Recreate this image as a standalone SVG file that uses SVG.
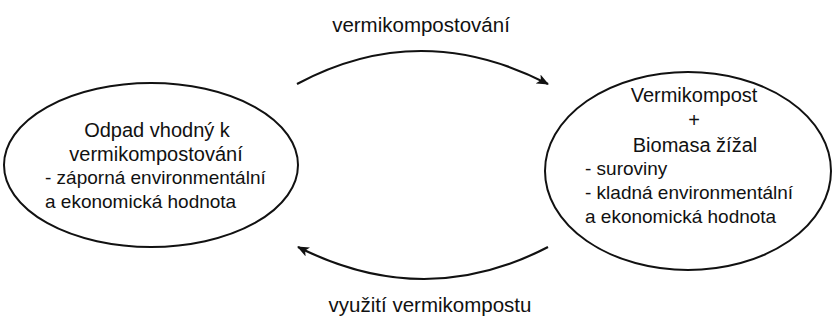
<svg xmlns="http://www.w3.org/2000/svg" width="832" height="320" viewBox="0 0 832 320">
  <style>
    text { font-family: "Liberation Sans", Arial, sans-serif; fill: #111; }
    .h { font-size: 20px; text-anchor: middle; }
    .d { font-size: 19px; }
    .lbl { font-size: 20.5px; text-anchor: middle; }
    .node { fill: #fff; stroke: #111; stroke-width: 2; }
    .conn { fill: none; stroke: #111; stroke-width: 2.2; }
  </style>
  <defs>
    <marker id="ah" viewBox="0 0 12 10" refX="11" refY="5" markerWidth="12" markerHeight="10" markerUnits="userSpaceOnUse" orient="auto">
      <path d="M0,0 L12,5 L0,10 L3,5 Z" fill="#111"/>
    </marker>
  </defs>
  <rect width="832" height="320" fill="#fff"/>
  <g id="connectors">
    <path class="conn" d="M297,84 Q420,18 548,84" marker-end="url(#ah)"/>
    <path class="conn" d="M548,247 Q425,311 298,247" marker-end="url(#ah)"/>
    <text class="lbl" x="421" y="32">vermikompostování</text>
    <text class="lbl" x="430" y="312">využití vermikompostu</text>
  </g>
  <g id="node-odpad">
    <ellipse class="node" cx="151" cy="165" rx="147" ry="82"/>
    <text class="h" x="157" y="137">Odpad vhodný k</text>
    <text class="h" x="156" y="161">vermikompostování</text>
    <text class="d" x="45" y="184">- záporná environmentální</text>
    <text class="d" x="45" y="208">a ekonomická hodnota</text>
  </g>
  <g id="node-vermikompost">
    <ellipse class="node" cx="688" cy="171" rx="143" ry="99"/>
    <text class="h" x="694" y="102">Vermikompost</text>
    <text class="h" x="694" y="127">+</text>
    <text class="h" x="695" y="152">Biomasa žížal</text>
    <text class="d" x="585" y="175">- suroviny</text>
    <text class="d" x="585" y="199">- kladná environmentální</text>
    <text class="d" x="585" y="223">a ekonomická hodnota</text>
  </g>
</svg>
